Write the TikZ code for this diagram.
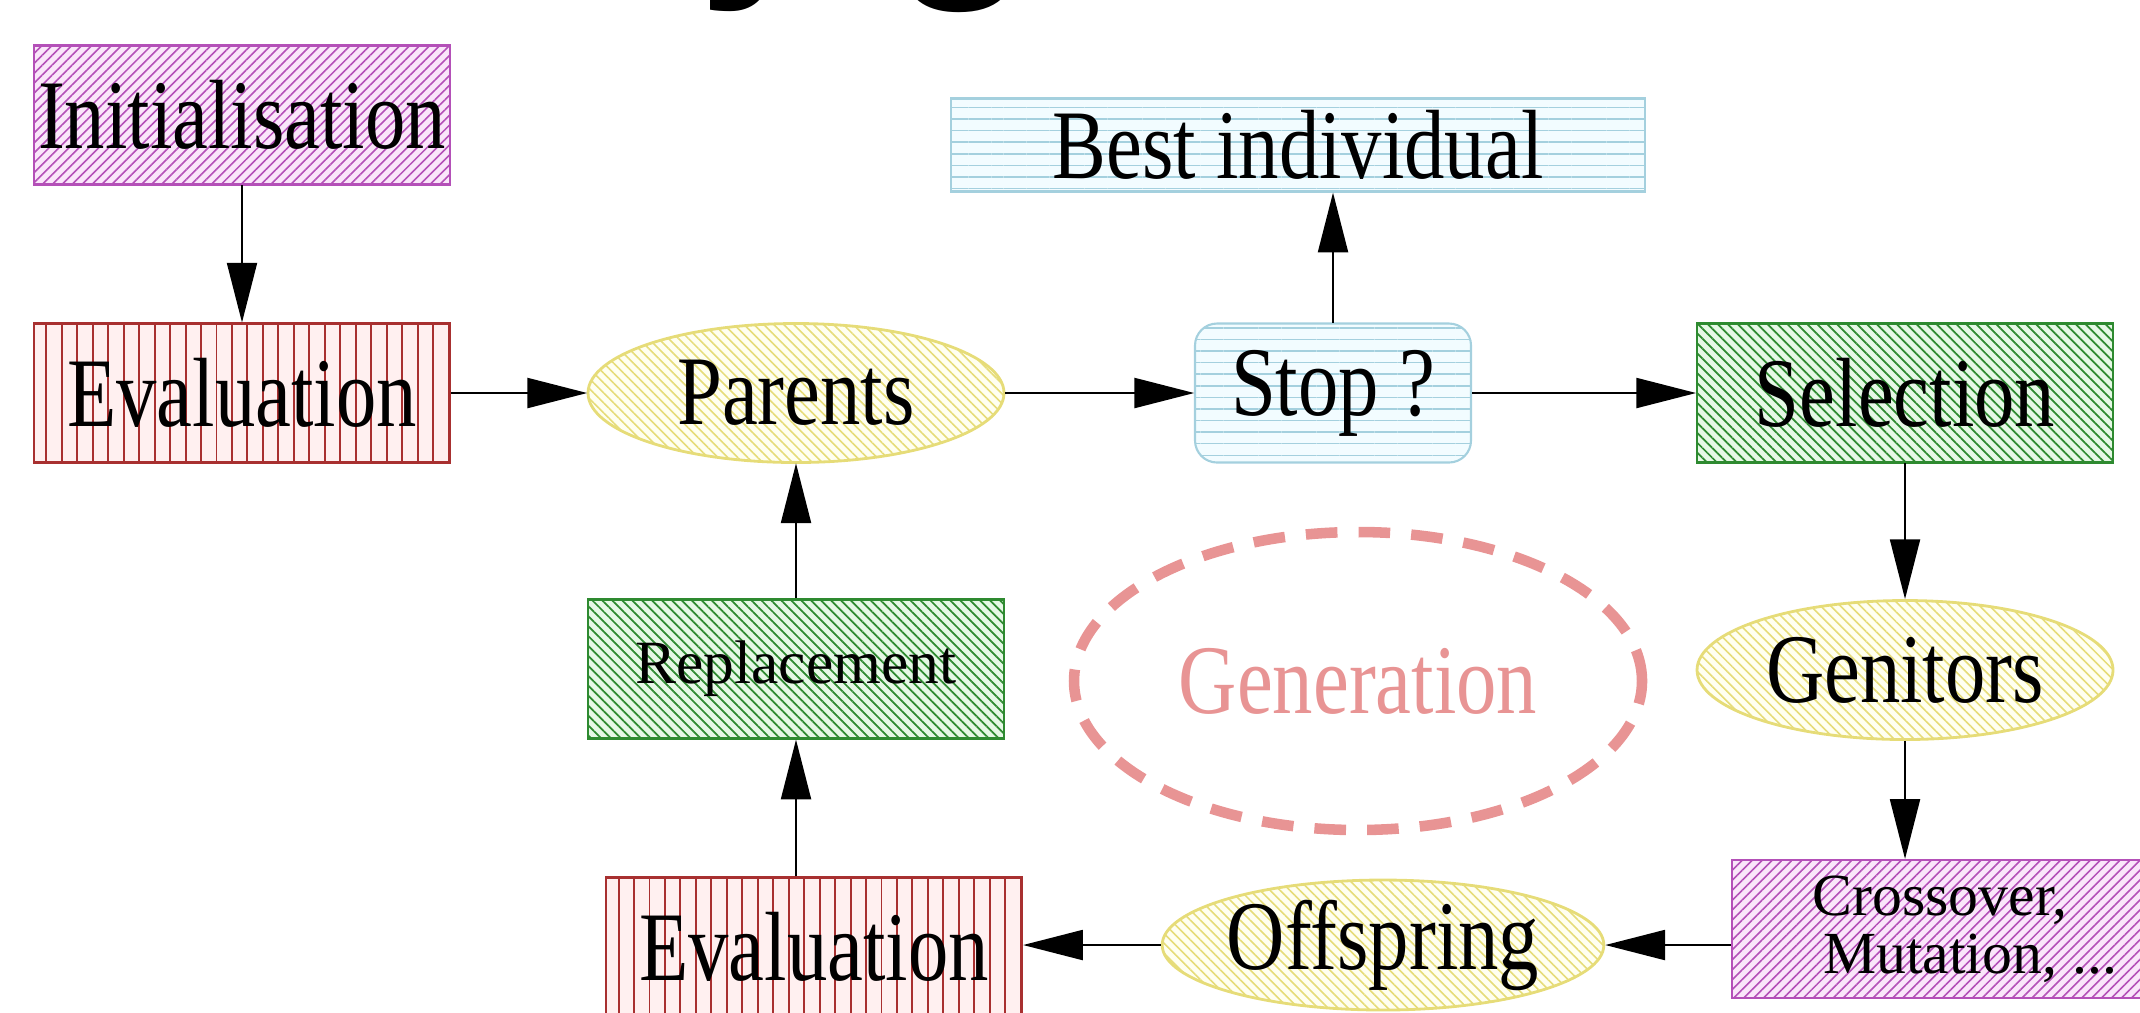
\documentclass[tikz,border=0pt]{standalone}
\usepackage{fontspec}
\setmainfont{Liberation Serif}
\newfontfamily\headfont{Liberation Sans}
\usetikzlibrary{shapes.geometric,patterns.meta,arrows.meta}

\definecolor{initcol}{HTML}{B450B8}
\definecolor{initbg}{HTML}{FAE6FA}
\definecolor{evalcol}{HTML}{A83030}
\definecolor{evalbg}{HTML}{FFF0F0}
\definecolor{popcol}{HTML}{E6DC78}
\definecolor{popbg}{HTML}{FFFFF0}
\definecolor{stopcol}{HTML}{A4D0DE}
\definecolor{stopbg}{HTML}{F2FCFF}
\definecolor{selcol}{HTML}{2E8A30}
\definecolor{selbg}{HTML}{E6F8E6}
\definecolor{gencol}{HTML}{E89494}

\newcommand{\tlab}[1]{\scalebox{0.82}[1]{#1}}

\tikzset{
  box/.style={rectangle,minimum width=4.16cm,minimum height=1.39cm,inner sep=0pt},
  initbox/.style={box,draw=initcol,line width=0.6pt,preaction={fill=initbg},
    pattern={Lines[angle=45,distance=2pt,line width=0.45pt]},pattern color=initcol},
  evalbox/.style={box,draw=evalcol,line width=0.6pt,preaction={fill=evalbg},
    pattern={Lines[angle=90,distance=4.4pt,line width=0.55pt]},pattern color=evalcol},
  selbox/.style={box,draw=selcol,line width=0.6pt,preaction={fill=selbg},
    pattern={Lines[angle=-45,distance=2pt,line width=0.5pt]},pattern color=selcol},
  stopbox/.style={box,draw=stopcol,line width=0.6pt,preaction={fill=stopbg},
    pattern={Lines[angle=0,distance=3.3pt,line width=0.45pt]},pattern color=stopcol},
  pop/.style={ellipse,minimum width=4.16cm,minimum height=1.39cm,inner sep=0pt,
    draw=popcol,line width=0.8pt,preaction={fill=popbg},
    pattern={Lines[angle=-45,distance=2pt,line width=0.45pt]},pattern color=popcol},
  gen/.style={ellipse,minimum width=5.68cm,minimum height=2.98cm,draw=gencol,
    line width=3pt,dash pattern=on 9pt off 6pt,text=gencol},
  head/.style={font=\headfont\bfseries\fontsize{66}{66}\selectfont,inner sep=0pt}
}

\begin{document}
\begin{tikzpicture}[>={Triangle[length=17pt,width=8.5pt]},line width=0.7pt,
  font=\fontsize{28}{30}\selectfont]
\useasboundingbox (0,-10.12) rectangle (21.4,0);
\clip (0,-10.12) rectangle (21.4,0);

\node [head,anchor=base west] (head) at(6.97,0.37){y g};

\node [initbox] (init) at(2.42,-1.15){\tlab{Initialisation}};
\node [evalbox] (evala) at(2.42,-3.93){\tlab{Evaluation}};
\node [pop] (parents) at(7.96,-3.93){\tlab{Parents}};
\node [stopbox,minimum width=2.76cm,rounded corners=0.22cm] (stop) at(13.33,-3.93){\tlab{Stop ?}};
\node [stopbox,minimum width=6.94cm,minimum height=0.93cm] (best) at(12.98,-1.45){\tlab{Best individual}};
\node [selbox] (select) at(19.05,-3.93){\tlab{Selection}};
\node [pop] (genitors) at(19.05,-6.70){\tlab{Genitors}};

\node [initbox,minimum height=1.38cm,align=center,font=\fontsize{17}{16.6}\selectfont] (cross) at(19.40,-9.29){Crossover,\\\hspace*{0.6cm}Mutation, ...};
\node [pop,minimum height=1.30cm] (offspring) at(13.83,-9.45){\tlab{Offspring}};
\node [evalbox] (evalb) at(8.14,-9.47){\tlab{Evaluation}};
\node [selbox,font=\fontsize{17.5}{19}\selectfont] (replace) at(7.96,-6.69){Replacement};

\node [gen] (generation) at(13.58,-6.81){\tlab{Generation}};

\draw[->] (init) -- (evala);
\draw[->] (evala) -- (parents);
\draw[->] (parents) -- (stop);
\draw[->] (stop.north) -- (stop.north |- best.south);
\draw[->] (stop) -- (select);
\draw[->] (select) -- (genitors);
\draw[->] (genitors) -- (genitors |- cross.north);
\draw[->] (cross.west |- offspring) -- (offspring);
\draw[->] (offspring) -- (offspring -| evalb.east);
\draw[->] (replace |- evalb.north) -- (replace);
\draw[->] (replace) -- (parents);

\end{tikzpicture}
\end{document}
